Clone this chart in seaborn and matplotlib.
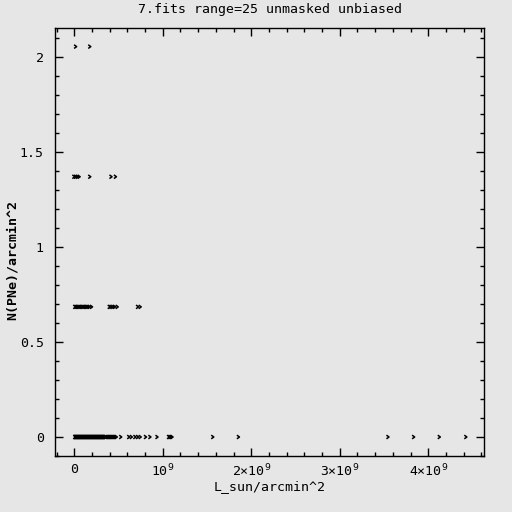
import numpy as np
import pandas as pd
import matplotlib
matplotlib.use("Agg")
import matplotlib.pyplot as plt
from matplotlib.path import Path
from matplotlib.ticker import FixedLocator, MultipleLocator
import seaborn as sns

# luminosity per arcmin^2 (units of 1e9), one list per N(PNe) level
lum_0 = [0.000, 0.005, 0.010, 0.015, 0.020, 0.025, 0.030, 0.035, 0.040,
         0.045, 0.050, 0.055, 0.060, 0.065, 0.070, 0.075, 0.080, 0.085,
         0.090, 0.095, 0.100, 0.105, 0.110, 0.115, 0.120, 0.125, 0.130,
         0.135, 0.140, 0.145, 0.150, 0.155, 0.160, 0.165, 0.170, 0.175,
         0.180, 0.185, 0.190, 0.195, 0.200, 0.205, 0.210, 0.215, 0.220,
         0.225, 0.230, 0.235, 0.240, 0.245, 0.250, 0.255, 0.260, 0.265,
         0.270, 0.275, 0.280, 0.285, 0.290, 0.295, 0.300, 0.305, 0.310,
         0.315, 0.320, 0.325, 0.330, 0.335, 0.340, 0.345, 0.350, 0.370,
         0.380, 0.390, 0.400, 0.410, 0.420, 0.430, 0.440, 0.450, 0.460,
         0.470, 0.520, 0.610, 0.640, 0.680, 0.710, 0.740, 0.800, 0.850,
         0.930, 1.060, 1.075, 1.090, 1.100, 1.56, 1.85, 3.54, 3.83, 4.12,
         4.42]
lum_1 = [0.00, 0.015, 0.03, 0.045, 0.06, 0.075, 0.09, 0.105, 0.12, 0.135,
         0.15, 0.165, 0.19, 0.39, 0.41, 0.43, 0.45, 0.48, 0.71, 0.74]
lum_2 = [-0.01, 0.01, 0.03, 0.05, 0.17, 0.41, 0.46]
lum_3 = [0.01, 0.17]
levels = [0.0, 0.685, 1.37, 2.055]
x_ticklabels = ["0", "10$^9$", "2×10$^9$", "3×10$^9$", "4×10$^9$"]

df = pd.concat([
    pd.DataFrame({"L": np.array(xs) * 1e9, "N": lvl})
    for xs, lvl in zip([lum_0, lum_1, lum_2, lum_3], levels)
], ignore_index=True)

bg = "#e6e6e6"
plt.rcParams.update({
    "figure.facecolor": bg, "axes.facecolor": bg, "savefig.facecolor": bg,
    "font.family": "DejaVu Sans Mono", "font.size": 9.5,
    "axes.linewidth": 1.0,
})

fig = plt.figure(figsize=(5.12, 5.12), dpi=100)
ax = fig.add_axes([55 / 512, 56 / 512, 429 / 512, 428 / 512])

chevron = Path([(-0.6, 1.0), (0.8, 0.0), (-0.6, -1.0)],
               [Path.MOVETO, Path.LINETO, Path.LINETO])
sns.scatterplot(data=df, x="L", y="N", ax=ax, marker=chevron, s=7,
                facecolors="none", edgecolor="black", color="black",
                linewidth=1.1, legend=False)

ax.set_xlim(-0.218e9, 4.63e9)
ax.set_ylim(-0.1, 2.153)

ax.xaxis.set_major_locator(FixedLocator([0, 1e9, 2e9, 3e9, 4e9]))
ax.set_xticklabels(x_ticklabels)
ax.xaxis.set_minor_locator(MultipleLocator(0.2e9))
ax.yaxis.set_major_locator(MultipleLocator(0.5))
ax.yaxis.set_minor_locator(MultipleLocator(0.1))
ax.yaxis.set_major_formatter(plt.FuncFormatter(lambda v, p: f"{v:g}"))

ax.tick_params(which="both", direction="in", top=True, right=True,
               colors="black", labelsize=9.5)
ax.tick_params(which="major", length=6, width=1)
ax.tick_params(axis="y", which="major", pad=8)
ax.tick_params(axis="x", which="major", pad=5)
ax.tick_params(which="minor", length=3, width=1)
for s in ax.spines.values():
    s.set_color("black")

ax.set_title("7.fits range=25 unmasked unbiased", fontsize=9.5, pad=11)
ax.set_xlabel("L_sun/arcmin^2", fontsize=9.5, labelpad=0)
ax.set_ylabel("N(PNe)/arcmin^2", fontsize=9.5, fontweight="bold")
ax.yaxis.set_label_coords(-0.084, 0.458)

fig.savefig("out.png", dpi=100)
